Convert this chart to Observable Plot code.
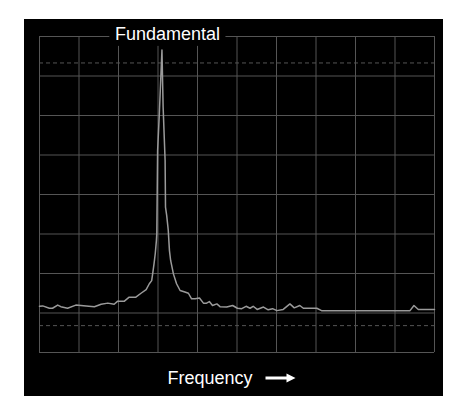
<!DOCTYPE html>
<html>
<head>
<meta charset="utf-8">
<script src="https://cdn.jsdelivr.net/npm/d3@7"></script>
<script src="https://cdn.jsdelivr.net/npm/@observablehq/plot@0.6"></script>
<style>
  html, body { margin: 0; padding: 0; background: #fff; }
  #chart { position: absolute; left: 24px; top: 19px; }
  #chart svg { display: block; }
</style>
</head>
<body>
<div id="chart"></div>
<script>
// Spectrum trace (frequency in grid divisions, amplitude in grid divisions)
const freq = [0.00,0.08,0.25,0.33,0.46,0.54,0.71,0.92,1.18,1.39,1.56,1.73,1.89,1.98,2.15,2.27,2.44,2.57,2.70,2.78,2.84,2.87,2.90,2.93,2.96,2.97,2.99,3.03,3.10,3.13,3.18,3.19,3.22,3.26,3.29,3.32,3.39,3.47,3.56,3.68,3.77,3.85,3.94,4.05,4.15,4.23,4.30,4.38,4.49,4.57,4.74,4.89,5.01,5.12,5.23,5.33,5.41,5.51,5.67,5.79,5.90,6.01,6.17,6.34,6.45,6.59,6.68,7.02,7.14,9.38,9.48,9.59,10.00];
const amplitude = [1.17,1.18,1.12,1.12,1.20,1.16,1.12,1.20,1.18,1.16,1.22,1.25,1.22,1.30,1.30,1.40,1.40,1.50,1.59,1.74,1.82,2.03,2.25,2.50,2.84,3.01,5.11,5.96,7.66,6.21,4.86,3.68,3.47,3.09,2.58,2.33,1.99,1.74,1.57,1.53,1.50,1.36,1.36,1.38,1.25,1.25,1.29,1.19,1.23,1.16,1.15,1.19,1.12,1.11,1.17,1.12,1.17,1.09,1.15,1.08,1.11,1.06,1.09,1.23,1.13,1.19,1.12,1.12,1.06,1.06,1.19,1.09,1.09];
const xTicks = [0,1,2,3,4,5,6,7,8,9,10];
const yTicks = [0,1,2,3,4,5,6,7,8];
const referenceLevels = [7.33, 0.68];
const peakLabel = "Fundamental";
const peakLabelX = 3.24;
const xAxisLabel = "Frequency";

const data = freq.map((f, i) => ({f, a: amplitude[i]}));
const labelBox = [{x1: peakLabelX - 1.46, x2: peakLabelX + 1.48, y1: 7.75, y2: 8.05}];

const gridColor = "#555";
const font = "'Liberation Sans', Arial, sans-serif";

// decorative arrow after the axis label
function arrowMark(index, scales, values, dims) {
  const ns = "http://www.w3.org/2000/svg";
  const g = document.createElementNS(ns, "g");
  const cx = dims.marginLeft + (dims.width - dims.marginLeft - dims.marginRight) / 2;
  const y = dims.height - dims.marginBottom + 26;
  const x1 = cx + 29, x2 = cx + 59;
  const line = document.createElementNS(ns, "line");
  line.setAttribute("x1", x1); line.setAttribute("x2", x2 - 8);
  line.setAttribute("y1", y); line.setAttribute("y2", y);
  line.setAttribute("stroke", "white"); line.setAttribute("stroke-width", 3);
  g.appendChild(line);
  const head = document.createElementNS(ns, "path");
  head.setAttribute("d", `M${x2 - 9},${y - 4.5}L${x2},${y}L${x2 - 9},${y + 4.5}Z`);
  head.setAttribute("fill", "white");
  g.appendChild(head);
  return g;
}

const chart = Plot.plot({
  width: 419,
  height: 377,
  marginLeft: 15,
  marginRight: 9,
  marginTop: 17,
  marginBottom: 44,
  style: {background: "black", color: "white", fontFamily: font},
  x: {domain: [0, 10], axis: null},
  y: {domain: [0, 8], axis: null},
  marks: [
    Plot.ruleX(xTicks, {stroke: gridColor, strokeOpacity: 1, strokeWidth: 1}),
    Plot.ruleY(yTicks, {stroke: gridColor, strokeOpacity: 1, strokeWidth: 1}),
    Plot.ruleY(referenceLevels, {stroke: gridColor, strokeWidth: 1, strokeDasharray: "4,3"}),
    Plot.rect(labelBox, {x1: "x1", x2: "x2", y1: "y1", y2: "y2", fill: "black"}),
    Plot.line(data, {x: "f", y: "a", stroke: "#9a9a9a", strokeWidth: 1.5, curve: "linear"}),
    Plot.text([peakLabel], {x: peakLabelX, y: 8, text: d => d, fill: "white", fontSize: 18, textAnchor: "middle", lineAnchor: "middle", dy: -2}),
    Plot.text([xAxisLabel], {frameAnchor: "bottom", text: d => d, fill: "white", fontSize: 18, textAnchor: "middle", lineAnchor: "bottom", dx: -27, dy: 31}),
    arrowMark
  ]
});
document.getElementById("chart").appendChild(chart);
</script>
</body>
</html>
